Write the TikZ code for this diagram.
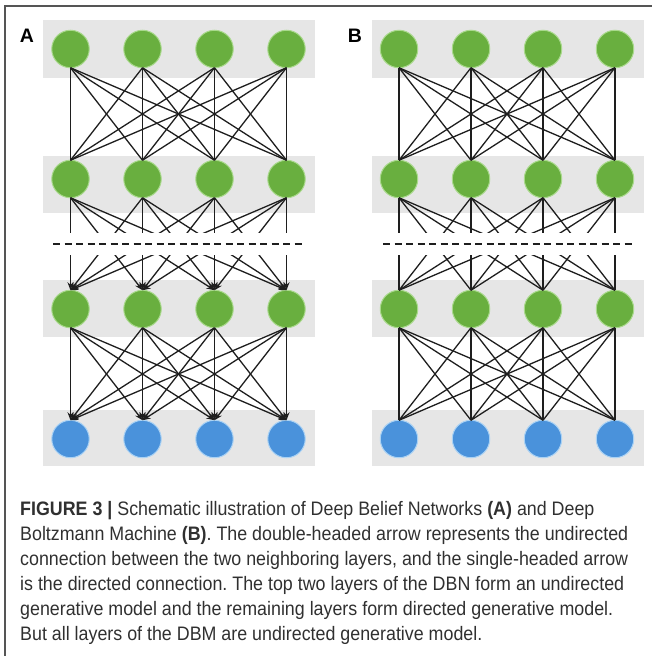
\documentclass[tikz,border=0pt]{standalone}
\usepackage{fontspec}
\setmainfont{Liberation Sans}
\newfontfamily\capfont{Liberation Sans}[FakeStretch=0.915]
\usetikzlibrary{arrows.meta}
\definecolor{bandgray}{HTML}{E6E6E6}
\definecolor{nodegreen}{HTML}{69AF3F}
\definecolor{rimgreen}{HTML}{A9D98C}
\definecolor{nodeblue}{HTML}{4A92DB}
\definecolor{rimblue}{HTML}{AAD2F4}
\definecolor{edgegray}{HTML}{1E1E1E}
\definecolor{captext}{HTML}{303030}
\definecolor{framegray}{HTML}{555555}
\frenchspacing

\begin{document}
\begin{tikzpicture}[x=1pt,y=-1pt,
  unit/.style={circle, minimum size=37.5pt, inner sep=0pt, outer sep=0pt, line width=1pt},
  greenunit/.style={unit, fill=nodegreen, draw=rimgreen},
  blueunit/.style={unit, fill=nodeblue, draw=rimblue},
  band/.style={fill=bandgray},
  link/.style={draw=edgegray, line width=1.3pt},
  dlink/.style={link, -{Stealth[length=8pt,width=6pt]}},
  cut/.style={draw=edgegray, line width=1.4pt, dash pattern=on 7pt off 4.5pt},
  panellabel/.style={font=\fontsize{19.5}{22}\selectfont\bfseries, anchor=base, inner sep=0pt},
  capline/.style={anchor=base west, inner sep=0pt, text=captext, font=\capfont\fontsize{19.5}{22}\selectfont}]

\useasboundingbox (0,0) rectangle (652,656);

% outer frame (top and left rules)
\draw[framegray, line width=1.4pt] (5,656) -- (5,6) -- (652,6);

% two panels: A (DBN, directed lower layers) and B (DBM, all undirected)
\foreach \p/\dx in {a/0, b/328.5} {
  \fill[band] (43+\dx,20) rectangle (315+\dx,78);
  \fill[band] (43+\dx,156) rectangle (315+\dx,213);
  \fill[band] (43+\dx,280) rectangle (315+\dx,337);
  \fill[band] (43+\dx,410) rectangle (315+\dx,466);
  \foreach \i/\x in {1/70.5, 2/142.5, 3/214.5, 4/286.5} {
    \node[greenunit] (\p-1-\i) at (\x+\dx,49) {};
    \node[greenunit] (\p-2-\i) at (\x+\dx,179) {};
    \node[greenunit] (\p-3-\i) at (\x+\dx,309) {};
    \node[blueunit]  (\p-4-\i) at (\x+\dx,439) {};
  }
}

% panel A connections
\foreach \i in {1,...,4} {
  \foreach \j in {1,...,4} {
    \draw[link]  (a-1-\i.south) -- (a-2-\j.north);
    \draw[dlink] (a-2-\i.south) -- (a-3-\j.north);
    \draw[dlink] (a-3-\i.south) -- (a-4-\j.north);
  }
}
% panel B connections
\foreach \i in {1,...,4} {
  \foreach \j in {1,...,4} {
    \draw[link] (b-1-\i.south) -- (b-2-\j.north);
    \draw[link] (b-2-\i.south) -- (b-3-\j.north);
    \draw[link] (b-3-\i.south) -- (b-4-\j.north);
  }
}

% break between the second and third layers
\fill[white] (44,233) rectangle (314,255);
\fill[white] (372.5,233) rectangle (642.5,255);
\draw[cut] (53,244) -- (304,244);
\draw[cut] (383,244) -- (634,244);

% panel labels
\node[panellabel] (labA) at (27,42) {A};
\node[panellabel] (labB) at (355,42) {B};

% caption
\node[capline] (c1) at (20,515.5) {\textbf{FIGURE 3 |} Schematic illustration of Deep Belief Networks \textbf{(A)} and Deep};
\node[capline] (c2) at (20,540.5) {Boltzmann Machine \textbf{(B)}. The double-headed arrow represents the undirected};
\node[capline] (c3) at (20,565.5) {connection between the two neighboring layers, and the single-headed arrow};
\node[capline] (c4) at (20,590.5) {is the directed connection. The top two layers of the DBN form an undirected};
\node[capline] (c5) at (20,615.5) {generative model and the remaining layers form directed generative model.};
\node[capline] (c6) at (20,640.5) {But all layers of the DBM are undirected generative model.};
\end{tikzpicture}
\end{document}
